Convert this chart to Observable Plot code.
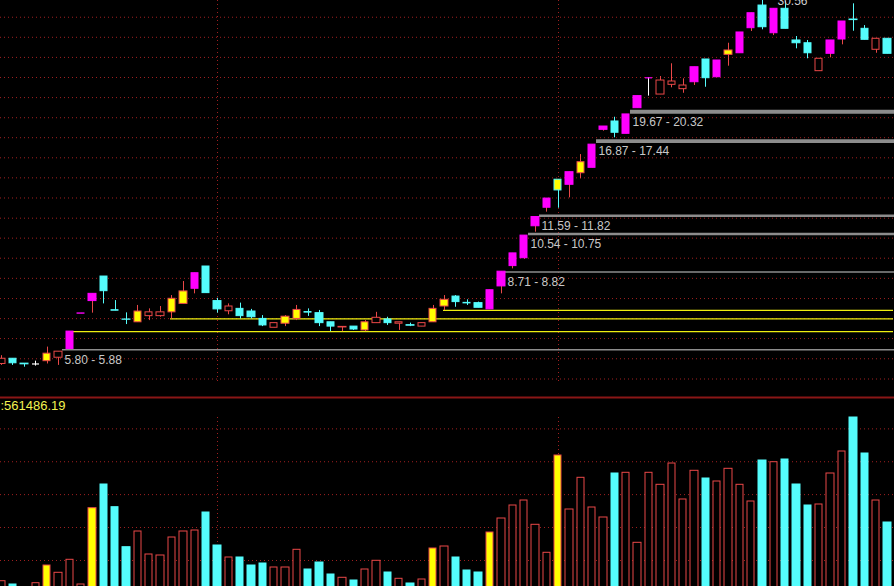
<!DOCTYPE html>
<html><head><meta charset="utf-8">
<script src="https://cdn.jsdelivr.net/npm/d3@7"></script>
<script src="https://cdn.jsdelivr.net/npm/@observablehq/plot@0.6"></script>
<style>
html,body{margin:0;padding:0;background:#000;overflow:hidden;width:894px;height:586px;}
#wrap{position:relative;width:894px;height:586px;overflow:hidden;background:#000;}
#price{position:absolute;left:0;top:0;}
#vol{position:absolute;left:0;top:395px;}
svg{display:block;}
</style></head><body><div id="wrap"><div id="price"></div><div id="vol"></div></div>
<script>
// ---- data ----
const openP  = [5.44,5.59,5.45,5.44,5.52,5.62,5.88,7.07,7.55,8.58,7.20,6.86,6.76,6.98,6.98,7.12,7.44,8.05,9.04,7.55,7.16,7.25,7.15,6.88,6.57,6.71,6.88,7.13,7.09,6.76,6.58,6.61,6.48,6.73,6.86,6.71,6.66,6.61,6.76,7.34,7.73,7.48,7.47,7.23,8.15,9.06,9.44,11.15,12.28,14.21,13.84,14.70,15.12,18.43,19.25,18.05,20.63,24.17,22.15,23.30,22.78,23.62,26.59,24.24,27.24,27.47,31.30,35.22,30.49,34.63,29.36,28.94,25.02,27.39,29.51,32.75,31.20,27.97,29.62];
const highP  = [5.68,5.59,5.45,5.52,5.94,5.80,6.44,7.08,7.84,8.58,7.57,7.10,7.38,7.25,7.34,7.77,8.36,8.73,9.04,7.66,7.44,7.47,7.23,7.00,6.73,7.00,7.38,7.25,7.19,6.76,6.60,6.61,6.82,7.12,6.94,6.76,6.73,6.73,7.38,7.77,7.77,7.60,7.51,7.99,8.80,9.68,10.62,11.70,12.88,14.21,14.78,16.20,17.06,18.75,19.68,19.97,21.97,24.17,24.33,26.00,24.04,25.54,26.59,26.45,28.94,30.61,33.84,36.30,34.63,36.00,29.97,29.36,26.69,29.36,32.41,35.54,31.73,29.62,29.62];
const lowP   = [5.40,5.40,5.35,5.38,5.44,5.40,5.88,7.07,7.09,7.44,7.18,6.68,6.76,6.82,6.94,6.88,7.44,7.84,7.87,7.09,7.03,6.88,6.88,6.61,6.57,6.61,6.82,6.97,6.61,6.44,6.44,6.48,6.44,6.73,6.65,6.48,6.61,6.61,6.76,7.19,7.31,7.38,7.29,7.23,7.84,8.93,9.38,10.81,12.00,12.25,12.93,14.28,15.12,18.30,17.68,18.05,20.63,21.97,22.15,22.94,22.30,23.22,23.01,24.24,25.68,27.47,30.77,31.04,30.12,31.20,28.11,26.69,25.02,26.82,28.70,30.81,29.46,27.47,27.39];
const closeP = [5.59,5.46,5.43,5.44,5.74,5.80,6.44,7.08,7.84,7.95,7.18,6.85,7.15,7.12,7.12,7.64,7.94,8.73,7.87,7.23,7.34,6.98,6.94,6.65,6.73,6.96,7.21,7.11,6.73,6.61,6.60,6.51,6.76,6.92,6.73,6.76,6.64,6.73,7.25,7.60,7.51,7.46,7.29,7.99,8.80,9.68,10.62,11.70,12.88,13.44,14.78,15.57,17.06,18.75,18.15,19.97,21.97,24.17,23.83,23.71,23.22,25.54,24.12,26.45,27.87,30.61,33.84,31.46,34.63,31.20,28.94,27.47,26.69,29.36,32.41,32.65,29.46,29.62,27.39];
// u = up (hollow red), d = down (cyan), m = magenta, yu / yd = yellow up / down, w = white doji
const candleKind = ["u","d","d","w","yu","u","m","m","m","d","d","d","yu","u","u","yu","yu","m","d","d","u","d","d","d","u","yu","yu","d","d","d","u","d","yu","u","d","u","d","u","yu","yu","d","d","d","m","m","m","m","m","m","yd","m","yu","m","m","d","m","m","w","u","u","u","m","d","m","yu","m","m","d","m","d","d","d","u","m","m","d","d","u","d"];
// volume, thousands
const volumeK = [97.3,71.2,31.6,81.5,221.4,163.7,266.5,71.2,674.6,862.0,682.5,366.1,490.3,308.4,300.5,442.8,490.3,498.2,640.5,379.6,284.7,284.7,221.4,237.2,205.6,205.6,345.6,189.8,245.1,150.3,124.2,102.8,189.8,258.6,166.1,116.2,79.1,110.7,355.9,371.7,284.7,181.9,166.1,482.4,593.1,695.9,735.4,543.3,321.9,1091.3,664.3,914.9,680.1,601.0,949.0,954.5,400.9,954.5,859.6,1028.0,743.4,970.3,909.4,885.7,986.1,859.6,727.5,1051.8,1038.3,1059.7,862.0,695.9,703.8,949.0,1122.9,1391.8,1107.1,735.4,561.5];
// r = red hollow, c = cyan, y = yellow
const volKind = ["r","c","c","r","y","r","r","r","y","c","c","c","r","r","r","r","r","r","c","c","r","c","c","c","r","r","r","c","c","c","r","c","r","r","c","r","c","r","y","r","c","c","c","y","r","r","r","r","r","y","r","r","r","r","c","r","r","r","r","r","r","r","c","r","r","r","r","c","r","c","c","c","r","r","r","c","c","r","c"];
const gapLow   = [5.80, 8.71, 10.54, 11.59, 16.87, 19.67];
const gapHigh  = [5.88, 8.82, 10.75, 11.82, 17.44, 20.32];
const gapStart = [5, 44, 46, 47, 52, 55];
const supportStart = [6, 15, 39];
const supportPrice = [6.44, 6.88, 7.19];
const priceGrid = [33.14,29.85,26.88,24.21,21.80,19.63,17.69,15.93,14.35,12.92,11.63,10.48,9.44,8.50,7.65,6.89,6.21,5.59,5.03];
const volGrid = [261, 522, 782, 1042, 1302];
const monthStart = [19, 49];
const maxLabel = "30.56";
const volLabel = ":561486.19";

// ---- styling ----
const RED = "#ea4848", CYAN = "#55fcfc", MAG = "#ff00ff", YEL = "#ffff00", WHITE = "#ffffff";
const GRID = "#a02020";
const FONT = "'Liberation Sans', Arial, sans-serif";
const cs = {
  u:  {fill: "#000", stroke: RED,  wick: RED},
  d:  {fill: CYAN,   stroke: CYAN, wick: CYAN},
  m:  {fill: MAG,    stroke: MAG,  wick: RED},
  yu: {fill: YEL,    stroke: RED,  wick: RED},
  yd: {fill: YEL,    stroke: CYAN, wick: CYAN},
  w:  {fill: WHITE,  stroke: WHITE, wick: WHITE}
};
const vs = {
  r: {fill: "#000", stroke: RED},
  c: {fill: CYAN,   stroke: CYAN},
  y: {fill: YEL,    stroke: RED}
};

const bars = openP.map((o, i) => ({i, o, h: highP[i], l: lowP[i], c: closeP[i], k: candleKind[i]}));
const gaps = gapLow.map((lo, j) => ({lo, hi: gapHigh[j], s: gapStart[j]}));
const supports = supportStart.map((s, j) => ({s, p: supportPrice[j]}));
const vols = volumeK.map((v, i) => ({i, v, k: volKind[i]}));
const imax = d3.maxIndex(highP);

const xDomain = [-0.1, 78.62];
const yDomain = [4.568, 36.16];

const price = Plot.plot({
  width: 894, height: 397, margin: 0,
  style: {background: "#000", fontFamily: FONT, overflow: "visible"},
  x: {domain: xDomain, axis: null, round: true},
  y: {type: "log", domain: yDomain, axis: null},
  marks: [
    Plot.ruleY(priceGrid, {stroke: GRID, strokeDasharray: "1,3"}),
    Plot.ruleX(monthStart, {stroke: GRID, strokeDasharray: "1,3", insetBottom: 14}),
    Plot.ruleY(supports, {y: "p", x1: "s", x2: () => xDomain[1], dx: -1, stroke: "#eeee10", strokeWidth: 1.2}),
    Plot.ruleY(gaps, {y: "hi", x1: "s", x2: () => xDomain[1], dx: 4, dy: 0.7, stroke: "#8c8c8c",
      strokeWidth: d => Math.max(1.3, 120 * Math.log(d.hi / d.lo))}),
    Plot.ruleX(bars, {x: "i", y1: "l", y2: "h", stroke: d => cs[d.k].wick, strokeWidth: 1}),
    Plot.rect(bars.filter(d => d.o !== d.c), {x1: d => d.i - 0.5, x2: d => d.i + 0.5, y1: "o", y2: "c",
      insetLeft: 2, insetRight: 2, fill: d => cs[d.k].fill, stroke: d => cs[d.k].stroke, strokeWidth: 1}),
    Plot.ruleY(bars.filter(d => d.o === d.c), {y: "o", x1: d => d.i - 0.5, x2: d => d.i + 0.5,
      insetLeft: 2, insetRight: 2, stroke: d => d.k === "w" && d.i > 40 ? MAG : cs[d.k].stroke, strokeWidth: 1.2}),
    Plot.text(gaps, {x: "s", y: "hi", text: d => `${d.lo.toFixed(2)} - ${d.hi.toFixed(2)}`,
      dx: 6, dy: 11, textAnchor: "start", fill: "#c8c8c8", fontSize: 12}),
    Plot.text([{i: imax, p: highP[imax], t: maxLabel}], {x: "i", y: "p", text: "t",
      dx: 15, dy: 1.5, textAnchor: "start", fill: "#d0d0d0", fontSize: 12})
  ]
});
document.getElementById("price").appendChild(price);

const vol = Plot.plot({
  width: 894, height: 205, marginTop: 2, marginBottom: 7, marginLeft: 0, marginRight: 0,
  style: {background: "#000", fontFamily: FONT},
  x: {domain: xDomain, axis: null, round: true},
  y: {domain: [0, 1550], axis: null},
  marks: [
    Plot.ruleY(volGrid, {stroke: GRID, strokeDasharray: "1,3"}),
    Plot.ruleX(monthStart, {stroke: GRID, strokeDasharray: "1,3", insetTop: 20}),
    Plot.rectY(vols, {x1: d => d.i - 0.5, x2: d => d.i + 0.5, y: "v", insetLeft: 2, insetRight: 2,
      fill: d => vs[d.k].fill, stroke: d => vs[d.k].stroke, strokeWidth: 1}),
    Plot.ruleY([1550], {stroke: "#8a1616", strokeWidth: 2}),
    Plot.text([volLabel], {text: d => d, frameAnchor: "top-left", dy: 3, fill: "#f2f250", fontSize: 13})
  ]
});
document.getElementById("vol").appendChild(vol);
</script>
</body></html>
